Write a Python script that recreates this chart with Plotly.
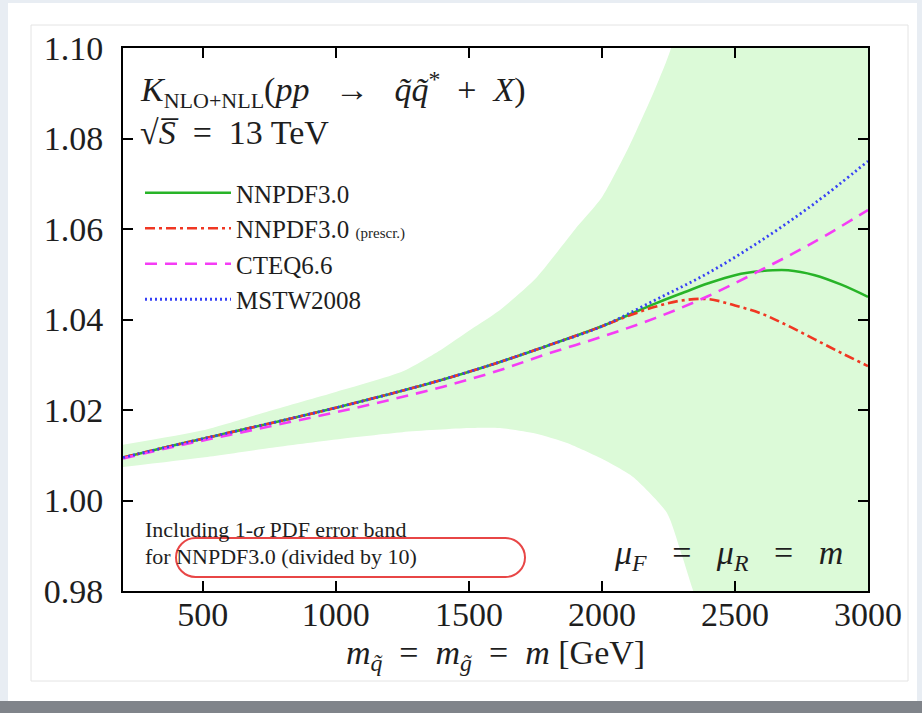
import plotly.graph_objects as go

# ---------------- data ----------------
mass_green = [200, 400, 600, 800, 1000, 1200, 1400, 1600, 1800, 2000, 2100, 2200, 2300, 2400, 2500, 2600, 2700, 2800, 2900, 3000]
k_nnpdf = [1.0095, 1.0123, 1.0150, 1.0177, 1.0205, 1.0235, 1.0267, 1.0303, 1.0343, 1.0385, 1.0410, 1.0435, 1.0458, 1.0480, 1.0498, 1.0507, 1.0509, 1.0498, 1.0477, 1.0450]

mass_red = [200, 400, 600, 800, 1000, 1200, 1400, 1600, 1800, 2000, 2100, 2200, 2300, 2400, 2500, 2600, 2700, 2800, 2900, 3000]
k_nnpdf_prescr = [1.0095, 1.0123, 1.0150, 1.0177, 1.0205, 1.0235, 1.0267, 1.0303, 1.0343, 1.0385, 1.0408, 1.0428, 1.0442, 1.0445, 1.0431, 1.0413, 1.0386, 1.0356, 1.0326, 1.0297]

mass_pink = [200, 400, 600, 800, 1000, 1200, 1400, 1600, 1800, 2000, 2200, 2400, 2600, 2800, 3000]
k_cteq = [1.0093, 1.0120, 1.0145, 1.0170, 1.0195, 1.0222, 1.0251, 1.0285, 1.0325, 1.0362, 1.0403, 1.0452, 1.0510, 1.0572, 1.0642]

mass_blue = [200, 400, 600, 800, 1000, 1200, 1400, 1600, 1800, 2000, 2200, 2400, 2600, 2800, 3000]
k_mstw = [1.0095, 1.0123, 1.0150, 1.0177, 1.0205, 1.0235, 1.0267, 1.0303, 1.0343, 1.0385, 1.0443, 1.0503, 1.0575, 1.0657, 1.0750]

band_up_mass = [200, 500, 750, 1000, 1250, 1400, 1500, 1617, 1750, 1900, 2000, 2100, 2200, 2260, 2400, 2700, 3000]
band_up = [1.0123, 1.0155, 1.0198, 1.0240, 1.0285, 1.0335, 1.0375, 1.0421, 1.0490, 1.0600, 1.0670, 1.0780, 1.0910, 1.1000, 1.1350, 1.2200, 1.3200]
band_lo_mass = [200, 500, 750, 1000, 1250, 1500, 1617, 1750, 1869, 2000, 2117, 2245, 2300, 2342, 2500, 3000]
band_lo = [1.0074, 1.0095, 1.0116, 1.0135, 1.0151, 1.0160, 1.0160, 1.0148, 1.0127, 1.0092, 1.0052, 0.9972, 0.9880, 0.9802, 0.9550, 0.8600]

x_ticks = [500, 1000, 1500, 2000, 2500, 3000]
y_ticks = [0.98, 1.00, 1.02, 1.04, 1.06, 1.08, 1.10]

# ---------------- layout geometry ----------------
WIDTH, HEIGHT = 922, 713
L, R, T, B = 123, 868, 48, 591
PW, PH = R - L, B - T


def px(x):
    return (x - L) / PW


def py(y):
    return (B - y) / PH


SERIF = "Liberation Serif"
TXT = "#1e1e1e"
SP = "\u2002"          # en space (math-like spacing)
MS = "\u2002\u2005"    # wider math spacing

fig = go.Figure()

# PDF error band
fig.add_trace(go.Scatter(
    x=band_up_mass + band_lo_mass[::-1],
    y=band_up + band_lo[::-1],
    fill="toself", fillcolor="rgb(220,250,216)",
    line=dict(width=0, shape="spline", smoothing=0.6), mode="lines", hoverinfo="skip", showlegend=False,
))

fig.add_trace(go.Scatter(x=mass_green, y=k_nnpdf, mode="lines", name="NNPDF3.0",
                         line=dict(color="rgb(40,180,40)", width=2.6, shape="spline"),
                         legendgroup="a"))
fig.add_trace(go.Scatter(x=mass_red, y=k_nnpdf_prescr, mode="lines",
                         name="NNPDF3.0 <span style='font-size:15px'>(prescr.)</span>",
                         line=dict(color="rgb(240,55,35)", width=2.6, dash="10px,4px,3px,4px", shape="spline"),
                         legendgroup="b"))
fig.add_trace(go.Scatter(x=mass_pink, y=k_cteq, mode="lines", name="CTEQ6.6",
                         line=dict(color="rgb(245,60,245)", width=2.6, dash="12px,8px", shape="spline"),
                         legendgroup="c"))
fig.add_trace(go.Scatter(x=mass_blue, y=k_mstw, mode="lines", name="MSTW2008",
                         line=dict(color="rgb(55,65,245)", width=2.8, dash="2px,3px", shape="spline"),
                         legendgroup="d"))

# ---------------- card decoration ----------------
shapes = [
    dict(type="rect", xref="paper", yref="paper", x0=px(8), x1=px(917), y0=py(3), y1=py(701),
         fillcolor="white", line=dict(width=0), layer="below"),
    dict(type="rect", xref="paper", yref="paper", x0=px(0), x1=px(922), y0=py(701), y1=py(713),
         fillcolor="rgb(128,132,138)", line=dict(width=0), layer="below"),
    dict(type="rect", xref="paper", yref="paper", x0=px(31), x1=px(908), y0=py(25), y1=py(681),
         fillcolor="rgba(0,0,0,0)", line=dict(color="rgb(228,228,228)", width=1), layer="below"),
]

# rounded (pill) outline around the note
x0p, x1p, y0p, y1p = 176, 525, 538, 577
r = (y1p - y0p) / 2
k = 0.5523 * r
pts = [
    ("M", [(x0p + r, y0p)]),
    ("L", [(x1p - r, y0p)]),
    ("C", [(x1p - r + k, y0p), (x1p, y0p + r - k), (x1p, y0p + r)]),
    ("C", [(x1p, y0p + r + k), (x1p - r + k, y1p), (x1p - r, y1p)]),
    ("L", [(x0p + r, y1p)]),
    ("C", [(x0p + r - k, y1p), (x0p, y1p - r + k), (x0p, y1p - r)]),
    ("C", [(x0p, y0p + r - k), (x0p + r - k, y0p), (x0p + r, y0p)]),
]
path = ""
for cmd, ps in pts:
    path += cmd + " ".join(f"{px(a):.5f},{py(b):.5f}" for a, b in ps) + " "
path += "Z"
shapes.append(dict(type="path", xref="paper", yref="paper", path=path,
                   line=dict(color="rgb(232,70,70)", width=2), fillcolor="rgba(0,0,0,0)"))

annotations = [
    dict(text=f"<i>K</i><sub><span style='font-size:22px'>NLO+NLL</span></sub>(<i>pp</i>{MS}→{MS}<i>q̃q̃</i><sup>*</sup>{SP}+{SP}<i>X</i>)",
         x=px(138), y=py(89), font=dict(size=34)),
    dict(text=f"√<i>S̅</i>{SP}={SP}13 TeV", x=px(138), y=py(132), font=dict(size=34)),
    dict(text="Including 1-<i>σ</i> PDF error band", x=px(143), y=py(529), font=dict(size=22)),
    dict(text="for NNPDF3.0 (divided by 10)", x=px(143), y=py(556), font=dict(size=22)),
    dict(text=f"<i>μ</i><sub><i>F</i></sub>{MS}={MS}<i>μ</i><sub><i>R</i></sub>{MS}={MS}<i>m</i>",
         x=px(845), y=py(555), xanchor="right", font=dict(size=34)),
]
for a in annotations:
    a.setdefault("xanchor", "left")
    a.update(xref="paper", yref="paper", yanchor="middle", showarrow=False)
    a["font"].update(family=SERIF, color=TXT)

axis_common = dict(
    showline=True, linecolor="black", linewidth=2, mirror="ticks",
    ticks="inside", ticklen=10, tickwidth=2, tickcolor="black",
    showgrid=False, zeroline=False,
    tickfont=dict(family=SERIF, size=34, color=TXT),
)

fig.update_layout(
    width=WIDTH, height=HEIGHT,
    margin=dict(l=L, r=WIDTH - R, t=T, b=HEIGHT - B, pad=0),
    paper_bgcolor="rgb(232,237,243)", plot_bgcolor="rgba(0,0,0,0)",
    xaxis=dict(range=[200, 3000], tickvals=x_ticks, ticktext=[str(v) for v in x_ticks],
               ticklabelstandoff=-8,
               title=dict(text=f"<i>m</i><sub><i>q̃</i></sub>{SP}={SP}<i>m</i><sub><i>g̃</i></sub>{SP}={SP}<i>m</i> [GeV]",
                          font=dict(family=SERIF, size=34, color=TXT), standoff=8),
               **axis_common),
    yaxis=dict(range=[0.98, 1.10], tickvals=y_ticks, ticktext=[f"{v:.2f}" for v in y_ticks],
               ticklabelstandoff=11, **axis_common),
    legend=dict(x=px(140), y=py(170), xanchor="left", yanchor="top",
                bgcolor="rgba(0,0,0,0)", borderwidth=0, itemwidth=86,
                traceorder="grouped", tracegroupgap=0,
                font=dict(family=SERIF, size=25, color=TXT)),
    shapes=shapes, annotations=annotations,
)

fig.write_html("out.html", config={"displayModeBar": False},
               post_script="document.body.style.margin='0';")
